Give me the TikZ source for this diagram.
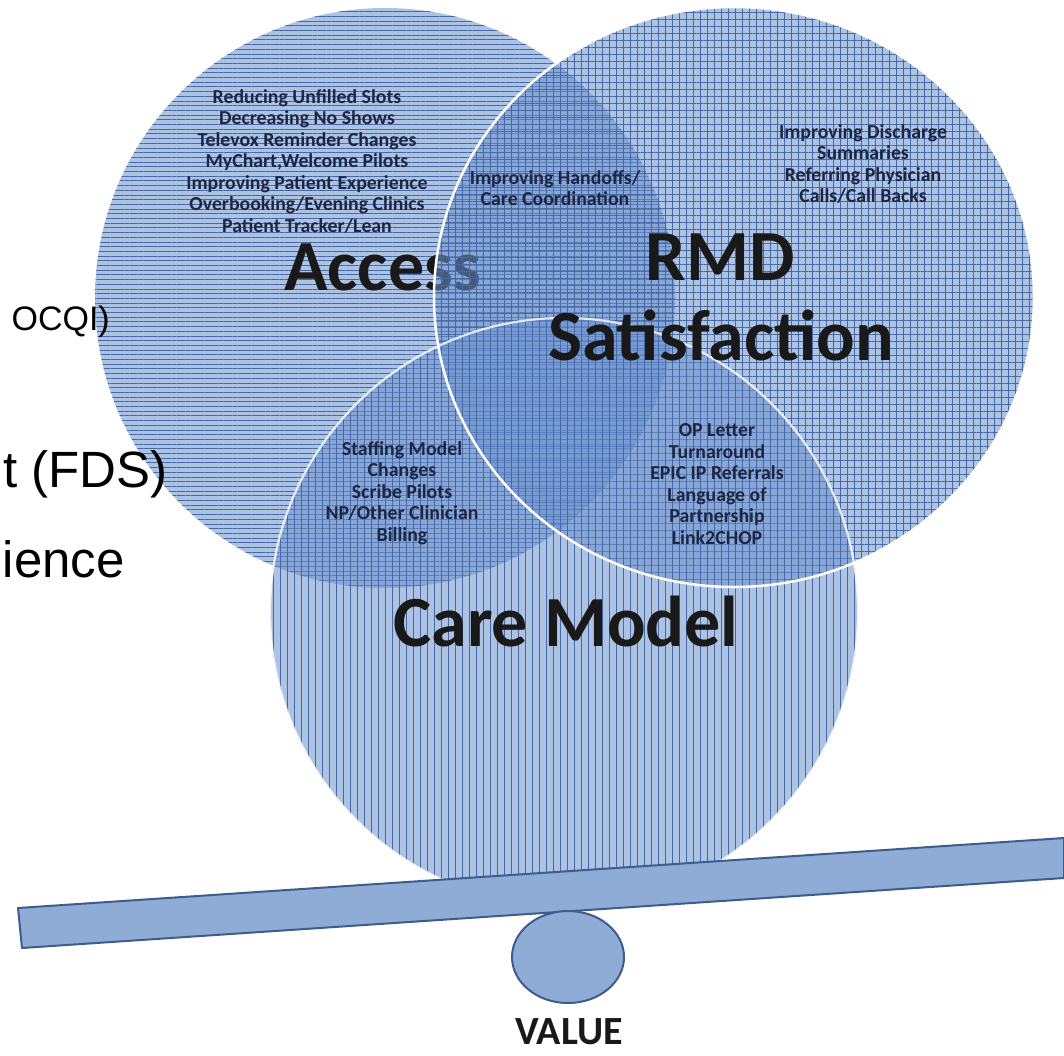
\documentclass[tikz,border=0pt]{standalone}
\usepackage{fontspec}
\setmainfont{Carlito}
\newfontfamily\arialfont{Liberation Sans}
\usetikzlibrary{patterns.meta}
\definecolor{venn}{RGB}{105,145,205}
\definecolor{hatch}{RGB}{70,105,165}
\definecolor{navy}{RGB}{28,38,66}
\definecolor{plankfill}{RGB}{143,172,214}
\definecolor{plankline}{RGB}{62,92,140}
\begin{document}
\begin{tikzpicture}[x=1pt,y=-1pt,
  disc/.style={fill=venn, fill opacity=0.55},
  hlines/.style={pattern={Lines[angle=0,distance=4.7pt,line width=0.6pt]}, pattern color=hatch, fill opacity=0.22},
  vlines/.style={pattern={Lines[angle=90,distance=7pt,line width=0.6pt]}, pattern color=hatch, fill opacity=0.22},
  item/.style={font=\fontsize{19.8}{21.5}\selectfont\bfseries, text=navy, align=center, inner sep=0pt},
  biglabel/.style={font=\fontsize{72}{83}\selectfont\bfseries, text=black!90, align=center, inner sep=0pt},
  side/.style={text=black, inner sep=0pt, anchor=base east},
  beam/.style={fill=plankfill, draw=plankline, line width=2pt, line join=round}
]
\useasboundingbox (0,0) rectangle (1064,1055);

% Access disc (horizontal hatching) with its heading
\fill[disc] (385,298) ellipse [x radius=290, y radius=290];
\fill[hlines] (385,298) ellipse [x radius=290, y radius=290];
\node[biglabel, anchor=base] (access) at (383,290) {Access};

% RMD Satisfaction disc (grid)
\fill[disc] (734,297) ellipse [x radius=300, y radius=290];
\fill[hlines, pattern={Lines[angle=0,distance=7pt,line width=0.6pt]}] (734,297) ellipse [x radius=300, y radius=290];
\fill[vlines] (734,297) ellipse [x radius=300, y radius=290];

% Care Model disc (vertical hatching)
\fill[disc] (564,612) ellipse [x radius=294, y radius=294];
\fill[vlines] (564,612) ellipse [x radius=294, y radius=294];

% white rims
\draw[white, line width=2.5pt] (734,297) ellipse [x radius=300, y radius=290];
\draw[white, line width=2.2pt, opacity=0.8] (564,612) ellipse [x radius=294, y radius=294];

% initiatives
\node[item] (accitems) at (307,161) {Reducing Unfilled Slots\\Decreasing No Shows\\Televox Reminder Changes\\MyChart,Welcome Pilots\\Improving Patient Experience\\Overbooking/Evening Clinics\\Patient Tracker/Lean};
\node[item] (handoffs) at (555,188) {Improving Handoffs/\\Care Coordination};
\node[item] (rmditems) at (863,164) {Improving Discharge\\Summaries\\Referring Physician\\Calls/Call Backs};
\node[item] (careitems) at (402,493) {Staffing Model\\Changes\\Scribe Pilots\\NP/Other Clinician\\Billing};
\node[item] (rmdcare) at (717,484) {OP Letter\\Turnaround\\EPIC IP Referrals\\Language of\\Partnership\\Link2CHOP};

% headings
\node[biglabel, anchor=base] (rmd) at (720,280) {RMD};
\node[biglabel, anchor=base] (satisf) at (721,360) {Satisfaction};
\node[biglabel, anchor=base] (care) at (566,646) {Care Model};

% text from the left margin
\node[side, font=\arialfont\fontsize{34}{40}\selectfont] (ocqi) at (110,330) {OCQI)};
\node[side, font=\arialfont\fontsize{51}{60}\selectfont] (fds) at (168,487) {t (FDS)};
\node[side, font=\arialfont\fontsize{51}{60}\selectfont] (ience) at (125,577) {ience};

% balance beam and fulcrum
\draw[beam] (18,908) -- (1064,838) -- (1064,878) -- (22,948) -- cycle;
\draw[beam] (568,957) ellipse [x radius=56, y radius=46];
\node[font=\fontsize{40}{44}\selectfont\bfseries, text=black!90, inner sep=0pt, anchor=base] (value) at (569,1044) {VALUE};
\end{tikzpicture}
\end{document}
